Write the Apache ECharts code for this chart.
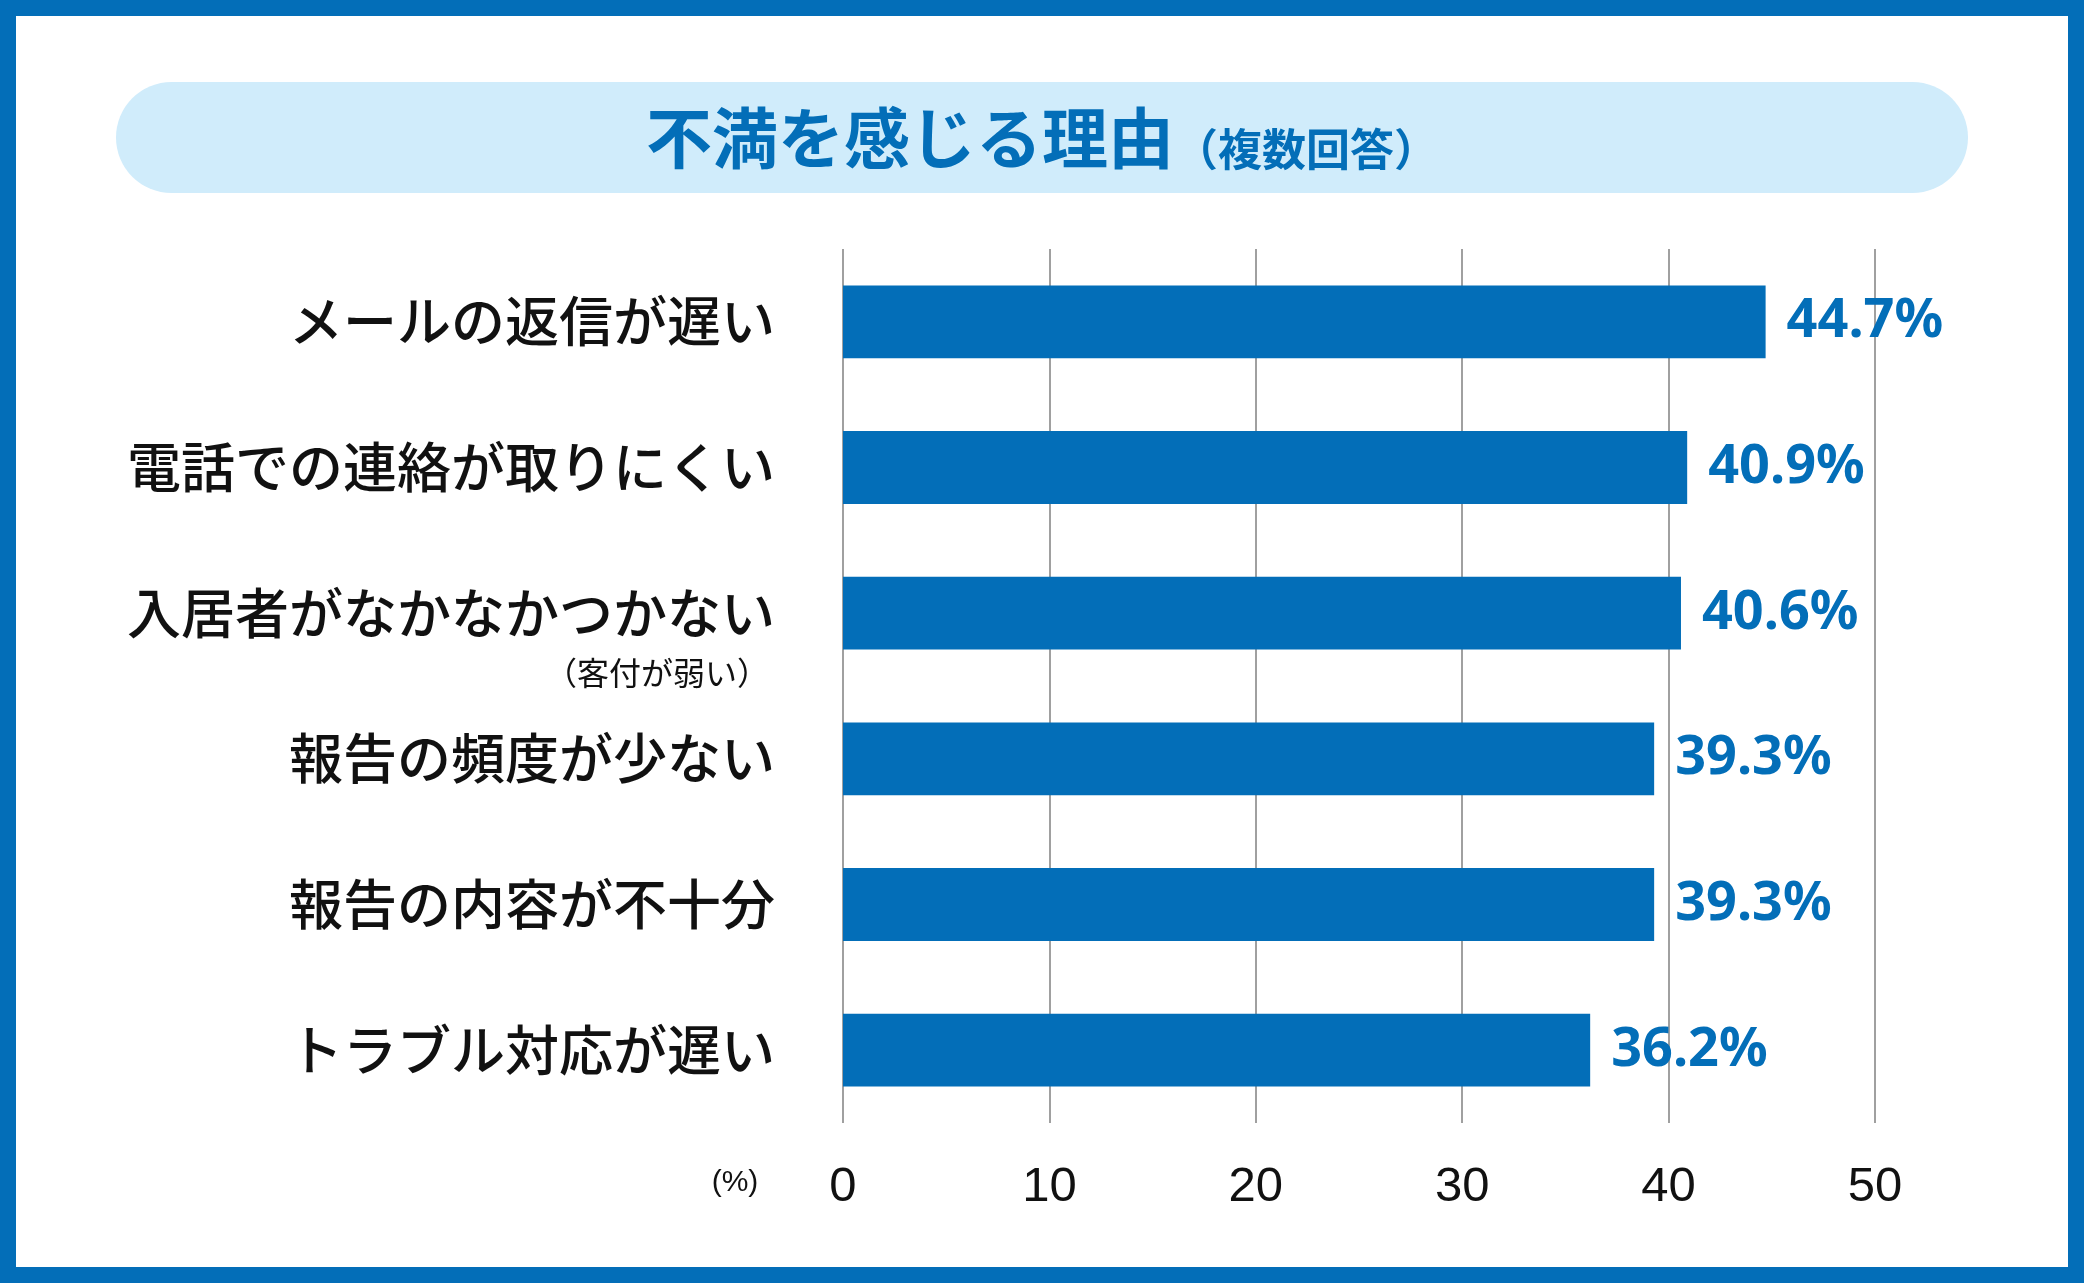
<!DOCTYPE html>
<html>
<head>
<meta charset="utf-8">
<title>不満を感じる理由</title>
<script src="https://cdn.jsdelivr.net/npm/echarts@6/dist/echarts.min.js"></script>
<style>
html, body { margin: 0; padding: 0; background: #fff; }
#chart { width: 2084px; height: 1283px; }
</style>
</head>
<body>
<div id="chart"></div>
<script>
// 項目（上から順）
var categories = ['メールの返信が遅い', '電話での連絡が取りにくい', '入居者がなかなかつかない', '報告の頻度が少ない', '報告の内容が不十分', 'トラブル対応が遅い'];
// 割合（%）
var values = [44.7, 40.9, 40.6, 39.3, 39.3, 36.2];
// 項目の下の補足
var subNotes = ['', '', '（客付が弱い）', '', '', ''];
// 目盛
var xTicks = [0, 10, 20, 30, 40, 50];

var BLUE = '#036eb8';
var JP = '"Noto Sans CJK JP", "Noto Sans", sans-serif';
var NUM = '"Liberation Sans Narrow", "Liberation Sans", sans-serif';
var GRID = { left: 843, right: 209, top: 249, bottom: 160 };
var LABEL_MARGIN = 68;

var chart = echarts.init(document.getElementById('chart'));

chart.setOption({
    animation: false,
    backgroundColor: '#fff',
    grid: GRID,
    xAxis: {
        type: 'value',
        min: xTicks[0],
        max: xTicks[xTicks.length - 1],
        interval: xTicks[1] - xTicks[0],
        axisLine: { show: false },
        axisTick: { show: false },
        axisLabel: { margin: 40, fontSize: 49, color: '#111', fontFamily: NUM },
        splitLine: { show: true, lineStyle: { color: '#808080', width: 1.5 } }
    },
    yAxis: {
        type: 'category',
        inverse: true,
        data: categories,
        axisLine: { show: false },
        axisTick: { show: false },
        axisLabel: { margin: LABEL_MARGIN, fontSize: 54, fontWeight: 500, color: '#111', fontFamily: JP }
    },
    series: [{
        type: 'bar',
        data: values,
        barWidth: '50%',
        itemStyle: { color: BLUE },
        label: {
            show: true,
            position: 'right',
            distance: 21,
            fontSize: 54,
            fontWeight: 'bold',
            color: BLUE,
            fontFamily: '"Noto Sans", sans-serif',
            formatter: function (p) { return p.value.toFixed(1) + '%'; }
        }
    }],
    graphic: [
        // 外枠
        { id: 'frame', type: 'rect', z: 100, silent: true,
          shape: { x: 8, y: 8, width: 2068, height: 1267 },
          style: { fill: 'none', stroke: BLUE, lineWidth: 16 } },
        // タイトル
        { id: 'pill', type: 'rect', silent: true,
          shape: { x: 116, y: 82, width: 1852, height: 111, r: 55.5 },
          style: { fill: '#d0ecfb' } },
        { id: 'title', type: 'text', silent: true, x: 1042, y: 138,
          style: {
              text: '{a|不満を感じる理由}{b|（複数回答）}',
              align: 'center', verticalAlign: 'middle',
              rich: {
                  a: { fontSize: 66, fontWeight: 'bold', fill: BLUE, fontFamily: JP, lineHeight: 74 },
                  b: { fontSize: 44, fontWeight: 'bold', fill: BLUE, fontFamily: JP, lineHeight: 74, verticalAlign: 'bottom', padding: [0, 0, 4, 0] }
              }
          } }
    ]
});

// 補足テキストと単位
var extra = [];
subNotes.forEach(function (note, i) {
    if (!note) return;
    var y = chart.convertToPixel({ yAxisIndex: 0 }, categories[i]);
    extra.push({ id: 'note' + i, type: 'text', silent: true,
        x: GRID.left - LABEL_MARGIN - 6, y: y + 60,
        style: { text: note, align: 'right', verticalAlign: 'middle', fontSize: 32, fill: '#111', fontFamily: JP } });
});
var axisY = 1283 - GRID.bottom;
extra.push({ id: 'unit', type: 'text', silent: true,
    x: GRID.left - 108, y: axisY + 60,
    style: { text: '(%)', align: 'center', verticalAlign: 'middle', fontSize: 30, fill: '#111', fontFamily: NUM } });
chart.setOption({ graphic: extra });
</script>
</body>
</html>
